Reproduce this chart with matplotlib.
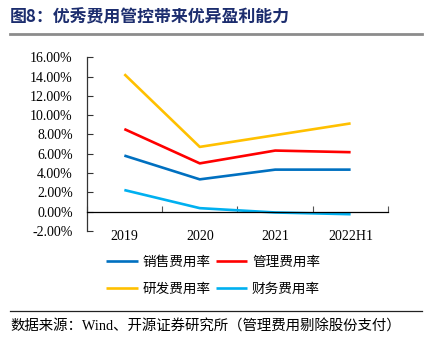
import matplotlib
matplotlib.use("Agg")
import matplotlib.pyplot as plt
from matplotlib.lines import Line2D
from matplotlib.ticker import FuncFormatter

plt.rcParams['font.family'] = ['Liberation Serif', 'Noto Sans CJK SC', 'DejaVu Sans']

years = ["2019", "2020", "2021", "2022H1"]
sales_rate = [5.81, 3.34, 4.35, 4.35]
admin_rate = [8.56, 5.00, 6.33, 6.16]
rd_rate = [14.26, 6.71, 7.93, 9.15]
fin_rate = [2.23, 0.35, -0.10, -0.28]

series_names = ["销售费用率", "管理费用率", "研发费用率", "财务费用率"]
series_values = [sales_rate, admin_rate, rd_rate, fin_rate]
colors = ["#0070C0", "#FF0000", "#FFC000", "#00B0F0"]

fig = plt.figure(figsize=(4.31, 3.46), dpi=100)
ax = fig.add_axes([0.201, 0.333, 0.700, 0.501])

x = list(range(len(years)))
lines = {}
for name, vals, c in zip(series_names, series_values, colors):
    lines[name], = ax.plot(x, vals, color=c, lw=1.9, label=name,
                           solid_capstyle="butt")

ax.set_xlim(-0.5, len(years) - 0.5)
ax.set_ylim(-2, 16)
ax.set_yticks(range(-2, 17, 2))
ax.yaxis.set_major_formatter(FuncFormatter(lambda v, p: f"{v:.2f}%"))

ax.set_xticks(x)
ax.set_xticklabels(years)
ax.set_xticks([i + 0.5 for i in range(-1, len(years))], minor=True)

ax.spines[['top', 'right']].set_visible(False)
ax.spines['bottom'].set_position(('data', 0))
ax.spines['bottom'].set_linewidth(0.9)
ax.spines['left'].set_linewidth(0.9)
ax.spines['left'].set_color("#333333")

ax.tick_params(axis='y', direction='in', length=4, width=0.8, pad=10,
               labelsize=10, colors="#333333", labelcolor="black")
ax.tick_params(axis='x', which='major', length=0, pad=13, labelsize=10)
ax.tick_params(axis='x', which='minor', direction='in', length=4, width=0.8,
               color="#555555")

# title + rule
fig.text(10 / 431, 1 - 17 / 346, "图8：优秀费用管控带来优异盈利能力",
         fontsize=12.2, fontweight="bold", color="#1c2d6e", va="center",
         family=['Noto Sans CJK SC'])
fig.add_artist(Line2D([10 / 431, 422 / 431], [1 - 33.7 / 346] * 2,
                      color="#8c8c8c", lw=2))

# legend, filled row by row like the original
order = ["销售费用率", "研发费用率", "管理费用率", "财务费用率"]
fig.legend([lines[n] for n in order], order, ncol=2, loc="upper left",
           bbox_to_anchor=(94 / 431, 1 - 243 / 346), frameon=False,
           prop={'family': ['Noto Sans CJK SC'], 'size': 9.8},
           handlelength=2.3, handletextpad=0.35, columnspacing=0.4,
           labelspacing=0.95)

# source rule + text
fig.add_artist(Line2D([10 / 431, 422 / 431], [1 - 310.7 / 346] * 2,
                      color="#222222", lw=0.9))
fig.text(10 / 431, 1 - 326.5 / 346,
         "数据来源：Wind、开源证券研究所（管理费用剔除股份支付）",
         fontsize=10.4, va="center", color="black")

fig.savefig("out.png", dpi=100)
